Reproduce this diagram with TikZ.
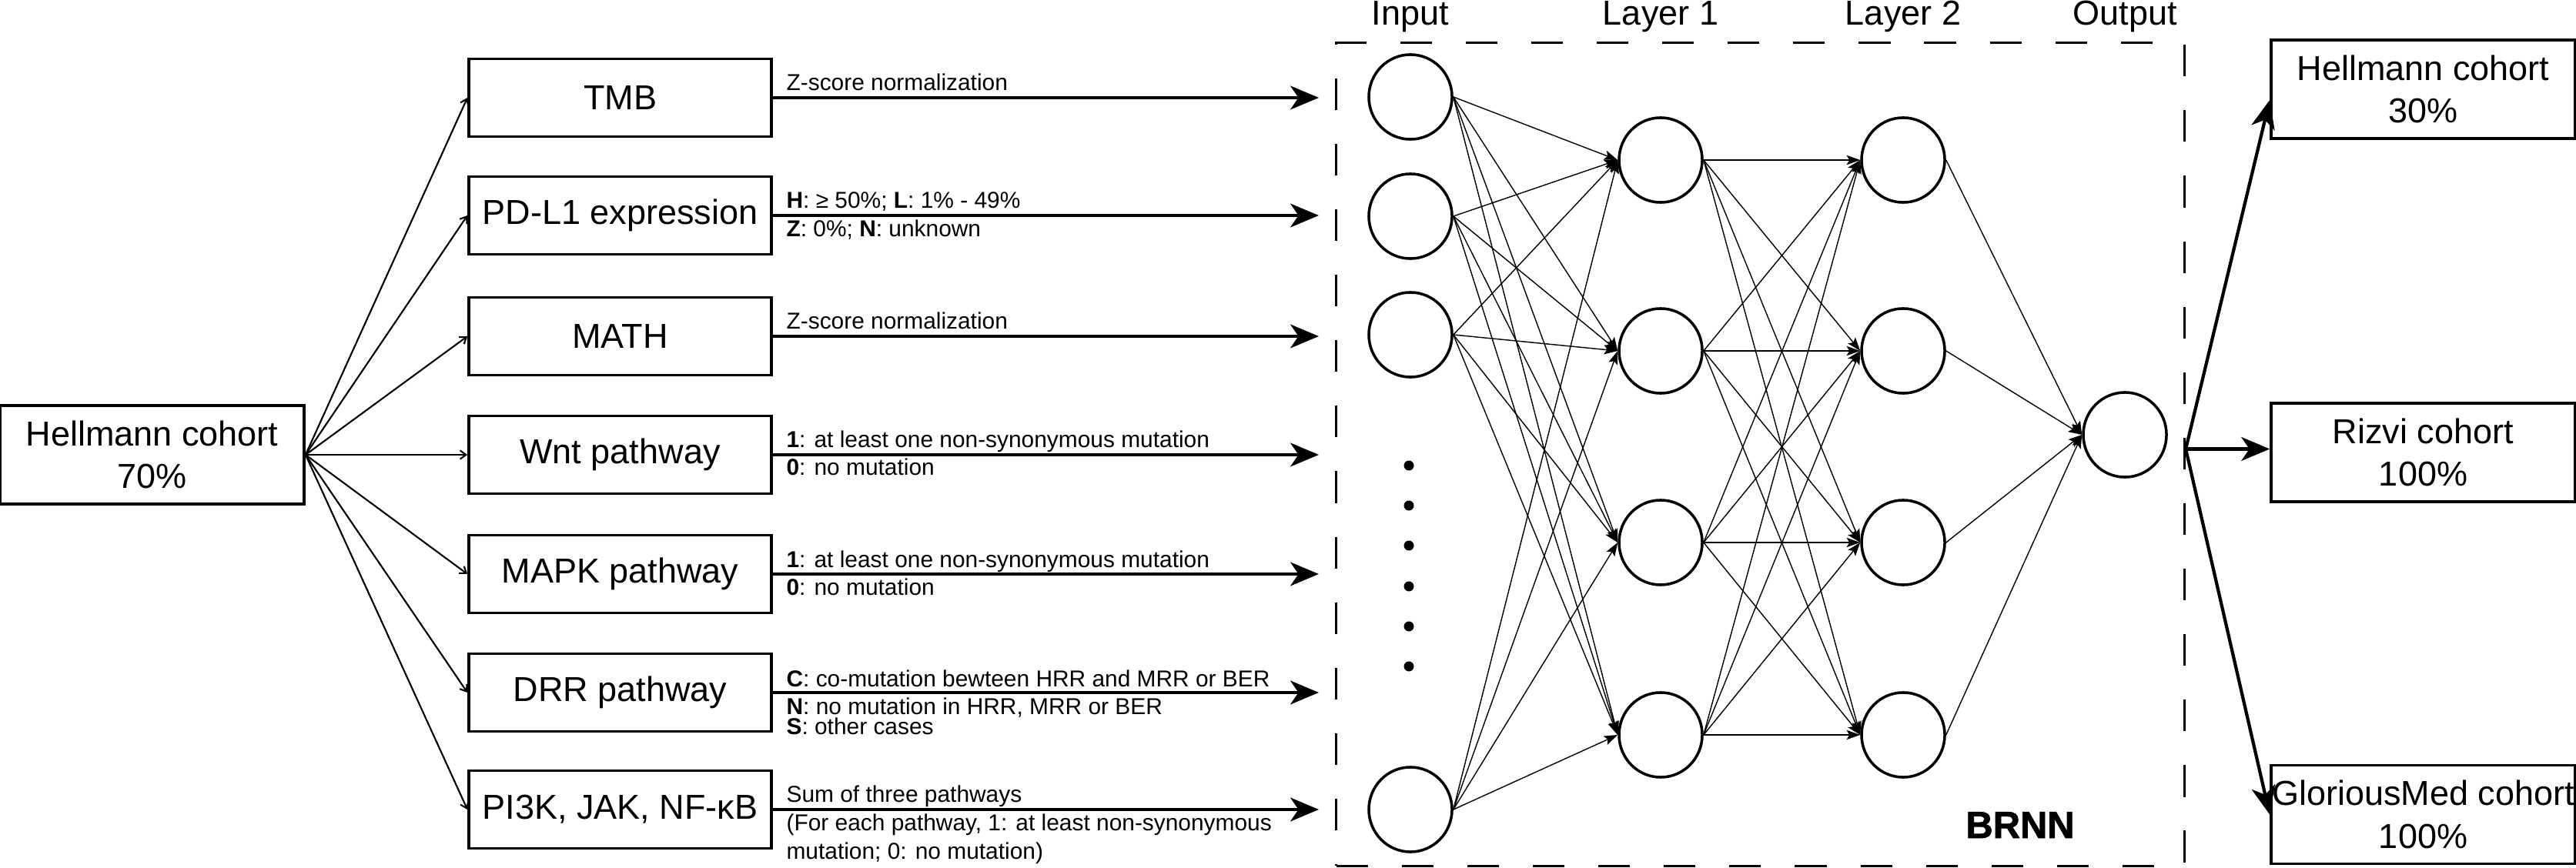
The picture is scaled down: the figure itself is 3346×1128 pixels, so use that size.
\documentclass[tikz,border=0pt]{standalone}
\usepackage{fontspec}
\setmainfont{Liberation Sans}
\newfontfamily\myheavyfamily{Liberation Sans Bold}[FakeBold=1.6]
\usetikzlibrary{arrows.meta,shapes.geometric,calc}
\newcommand{\mybigfont}{\fontsize{12.8pt}{15.7pt}\selectfont}
\newcommand{\mylabelfont}{\fontsize{8.5pt}{10pt}\selectfont}
\newcommand{\mybrnnfont}{\fontsize{13.9pt}{16pt}\selectfont\myheavyfamily}
\begin{document}
\begin{tikzpicture}[x=0.01cm,y=-0.01cm,
  fbox/.style={draw, line width=1pt, minimum width=3.93cm, minimum height=1.01cm, inner sep=0pt, align=center, font=\mybigfont},
  cbox/.style={draw, line width=1pt, minimum width=3.95cm, minimum height=1.28cm, inner sep=0pt, align=center, font=\mybigfont},
  neuron/.style={draw, ellipse, line width=1pt, minimum width=1.08cm, minimum height=1.10cm, inner sep=0pt},
  lbl/.style={anchor=base west, inner sep=0pt, font=\mylabelfont},
  collbl/.style={anchor=base, inner sep=0pt, font=\mybigfont},
  fan/.style={line width=0.6pt, -{Straight Barb[length=2.2pt,width=3.2pt]}},
  feat/.style={line width=0.9pt, -{Stealth[length=10.5pt,width=8.8pt,inset=3pt]}},
  outarr/.style={line width=1.2pt, -{Stealth[length=10.5pt,width=8.8pt,inset=3pt]}},
  nn/.style={line width=0.4pt, -{Stealth[length=5pt,width=3.5pt,inset=1pt]}},
  dashbox/.style={draw, line width=1pt, dash pattern=on 11.7pt off 12.5pt, minimum width=11.01cm, minimum height=10.69cm, inner sep=0pt}
]
\useasboundingbox (0,0) rectangle (3346,1128);

% source cohort
\node[cbox] (h70) at (197.5,591) {Hellmann cohort\\70\%};

% feature boxes
\node[fbox] (tmb)  at (805.5,127)  {TMB};
\node[fbox] (pdl)  at (805.5,280)  {PD-L1 expression};
\node[fbox] (math) at (805.5,437)  {MATH};
\node[fbox] (wnt)  at (805.5,591)  {Wnt pathway};
\node[fbox] (mapk) at (805.5,746)  {MAPK pathway};
\node[fbox] (drr)  at (805.5,900)  {DRR pathway};
\node[fbox] (pik)  at (805.5,1052) {PI3K, JAK, NF-κB};

\foreach \f in {tmb,pdl,math,wnt,mapk,drr,pik}
  \draw[fan] (h70.east) -- (\f.west);

% BRNN group
\node[dashbox] (brnn) at (2286.5,590.5) {};
\node[anchor=base, inner sep=0pt, font=\mybrnnfont] (brnnlbl) at (2624,1089) {BRNN};

% feature arrows
\foreach \f in {tmb,pdl,math,wnt,mapk,drr,pik}
  \draw[feat] (\f.east) -- ($(\f.east -| brnn.west)+(-21,0)$);

% labels on feature arrows
\node[lbl] (l1) at ($(tmb.east)+(17,-9)$) {Z-score normalization};
\node[lbl] (l2a) at ($(pdl.east)+(17,-9)$) {\textbf{H}: ≥ 50\%; \textbf{L}: 1\% - 49\%};
\node[lbl] (l2b) at ($(pdl.east)+(17,28)$) {\textbf{Z}: 0\%; \textbf{N}: unknown};
\node[lbl] (l3) at ($(math.east)+(17,-9)$) {Z-score normalization};
\node[lbl] (l4a) at ($(wnt.east)+(17,-9)$) {\textbf{1}: at least one non-synonymous mutation};
\node[lbl] (l4b) at ($(wnt.east)+(17,27)$) {\textbf{0}: no mutation};
\node[lbl] (l5a) at ($(mapk.east)+(17,-9)$) {\textbf{1}: at least one non-synonymous mutation};
\node[lbl] (l5b) at ($(mapk.east)+(17,27)$) {\textbf{0}: no mutation};
\node[lbl] (l6a) at ($(drr.east)+(17,-8)$) {\textbf{C}: co-mutation bewteen HRR and MRR or BER};
\node[lbl] (l6b) at ($(drr.east)+(17,28)$) {\textbf{N}: no mutation in HRR, MRR or BER};
\node[lbl] (l6c) at ($(drr.east)+(17,54)$) {\textbf{S}: other cases};
\node[lbl] (l7a) at ($(pik.east)+(17,-10)$) {Sum of three pathways};
\node[lbl] (l7b) at ($(pik.east)+(17,27)$) {(For each pathway, 1: at least non-synonymous};
\node[lbl] (l7c) at ($(pik.east)+(17,64)$) {mutation; 0: no mutation)};

% neurons
\node[neuron] (i1) at (1832,126) {};
\node[neuron] (i2) at (1832,281) {};
\node[neuron] (i3) at (1832,435) {};
\node[neuron] (i4) at (1832,1052) {};
\node[neuron] (a1) at (2157,208) {};
\node[neuron] (a2) at (2157,456) {};
\node[neuron] (a3) at (2157,705) {};
\node[neuron] (a4) at (2157,955) {};
\node[neuron] (b1) at (2472,208) {};
\node[neuron] (b2) at (2472,456) {};
\node[neuron] (b3) at (2472,705) {};
\node[neuron] (b4) at (2472,955) {};
\node[neuron] (o1) at (2760,565) {};

\foreach \y in {605,657,709,762,814,866}
  \fill (1830,\y) circle[radius=0.065cm];

% column labels
\node[collbl] (cin) at (i1.center |- 0,33) {Input};
\node[collbl] (cl1) at (a1.center |- 0,33) {Layer 1};
\node[collbl] (cl2) at (b1.center |- 0,33) {Layer 2};
\node[collbl] (cout) at (o1.center |- 0,33) {Output};

% edges
\foreach \s in {i1,i2,i3,i4}
  \foreach \t in {a1,a2,a3,a4}
    \draw[nn] (\s.east) -- (\t.west);
\foreach \s in {a1,a2,a3,a4}
  \foreach \t in {b1,b2,b3,b4}
    \draw[nn] (\s.east) -- (\t.west);
\foreach \s in {b1,b2,b3,b4}
  \draw[nn] (\s.east) -- (o1.west);

% target cohorts
\node[cbox] (h30) at (3147.5,116) {Hellmann cohort\\30\%};
\node[cbox] (riz) at (3147.5,588) {Rizvi cohort\\100\%};
\node[cbox] (glo) at (3147.5,1058.5) {GloriousMed cohort\\100\%};

\coordinate (src) at ([yshift=2pt]brnn.east);
\draw[outarr] (src) -- ([yshift=-4pt]h30.west);
\draw[outarr] (src) -- (src -| riz.west);
\draw[outarr] (src) -- (glo.west);
\end{tikzpicture}
\end{document}
